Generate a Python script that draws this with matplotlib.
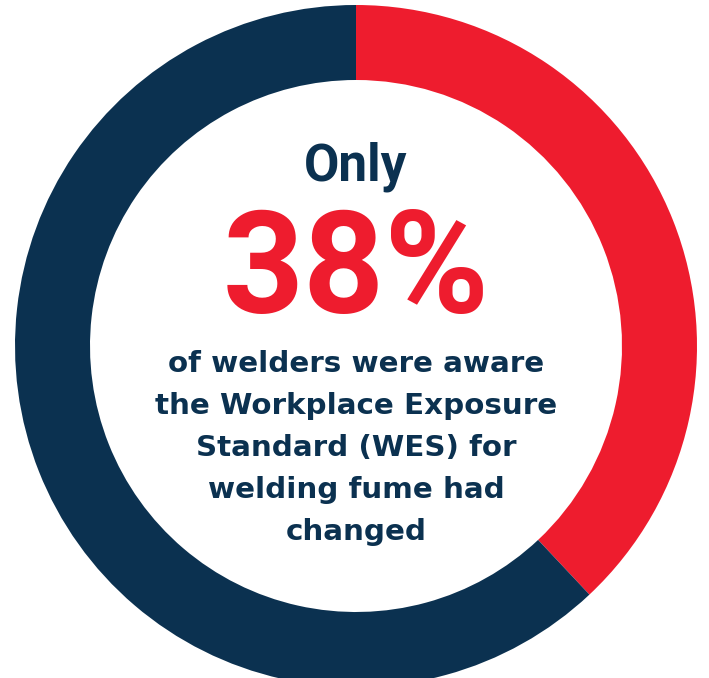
import matplotlib
matplotlib.use("Agg")
import matplotlib.pyplot as plt
from matplotlib import font_manager

# share of welders aware of the WES change
labels = ["Aware", "Not aware"]
shares = [38, 62]
colors = ["#EE1C2E", "#0B3150"]

headline = "Only"
big_value = f"{shares[0]}%"
caption = [
    "of welders were aware",
    "the Workplace Exposure",
    "Standard (WES) for",
    "welding fume had",
    "changed",
]

navy = "#0B3150"
red = "#EE1C2E"


def bold_font(family, size):
    # pick the plain-width bold file, not a condensed one
    for f in font_manager.fontManager.ttflist:
        if (f.name == family and f.weight in (700, "bold") and f.style == "normal"
                and f.stretch == "normal" and "ondensed" not in f.fname):
            return font_manager.FontProperties(fname=f.fname, size=size)
    return font_manager.FontProperties(family=family, weight="bold", size=size)


W, H = 709, 678
fig = plt.figure(figsize=(W / 100, H / 100), dpi=100)
ax = fig.add_axes([0, 0, 1, 1])

cx, cy = 356, 332
ax.pie(shares, colors=colors, startangle=90, counterclock=False,
       center=(cx, cy), radius=341, frame=True,
       wedgeprops=dict(width=75, linewidth=0))

ax.set_xlim(0, W)
ax.set_ylim(0, H)
ax.set_aspect("equal")
ax.axis("off")

ax.text(cx, 498, headline, ha="center", va="baseline", color=navy,
        fontproperties=bold_font("Roboto", 37))
ax.text(cx, 365, big_value, ha="center", va="baseline", color=red,
        fontproperties=bold_font("Roboto", 102))

y = 306
for line in caption:
    ax.text(cx, y, line, ha="center", va="baseline", color=navy,
            fontsize=21.2, fontweight="bold", family="DejaVu Sans")
    y -= 42

fig.savefig("out.png", dpi=100)
plt.close(fig)
